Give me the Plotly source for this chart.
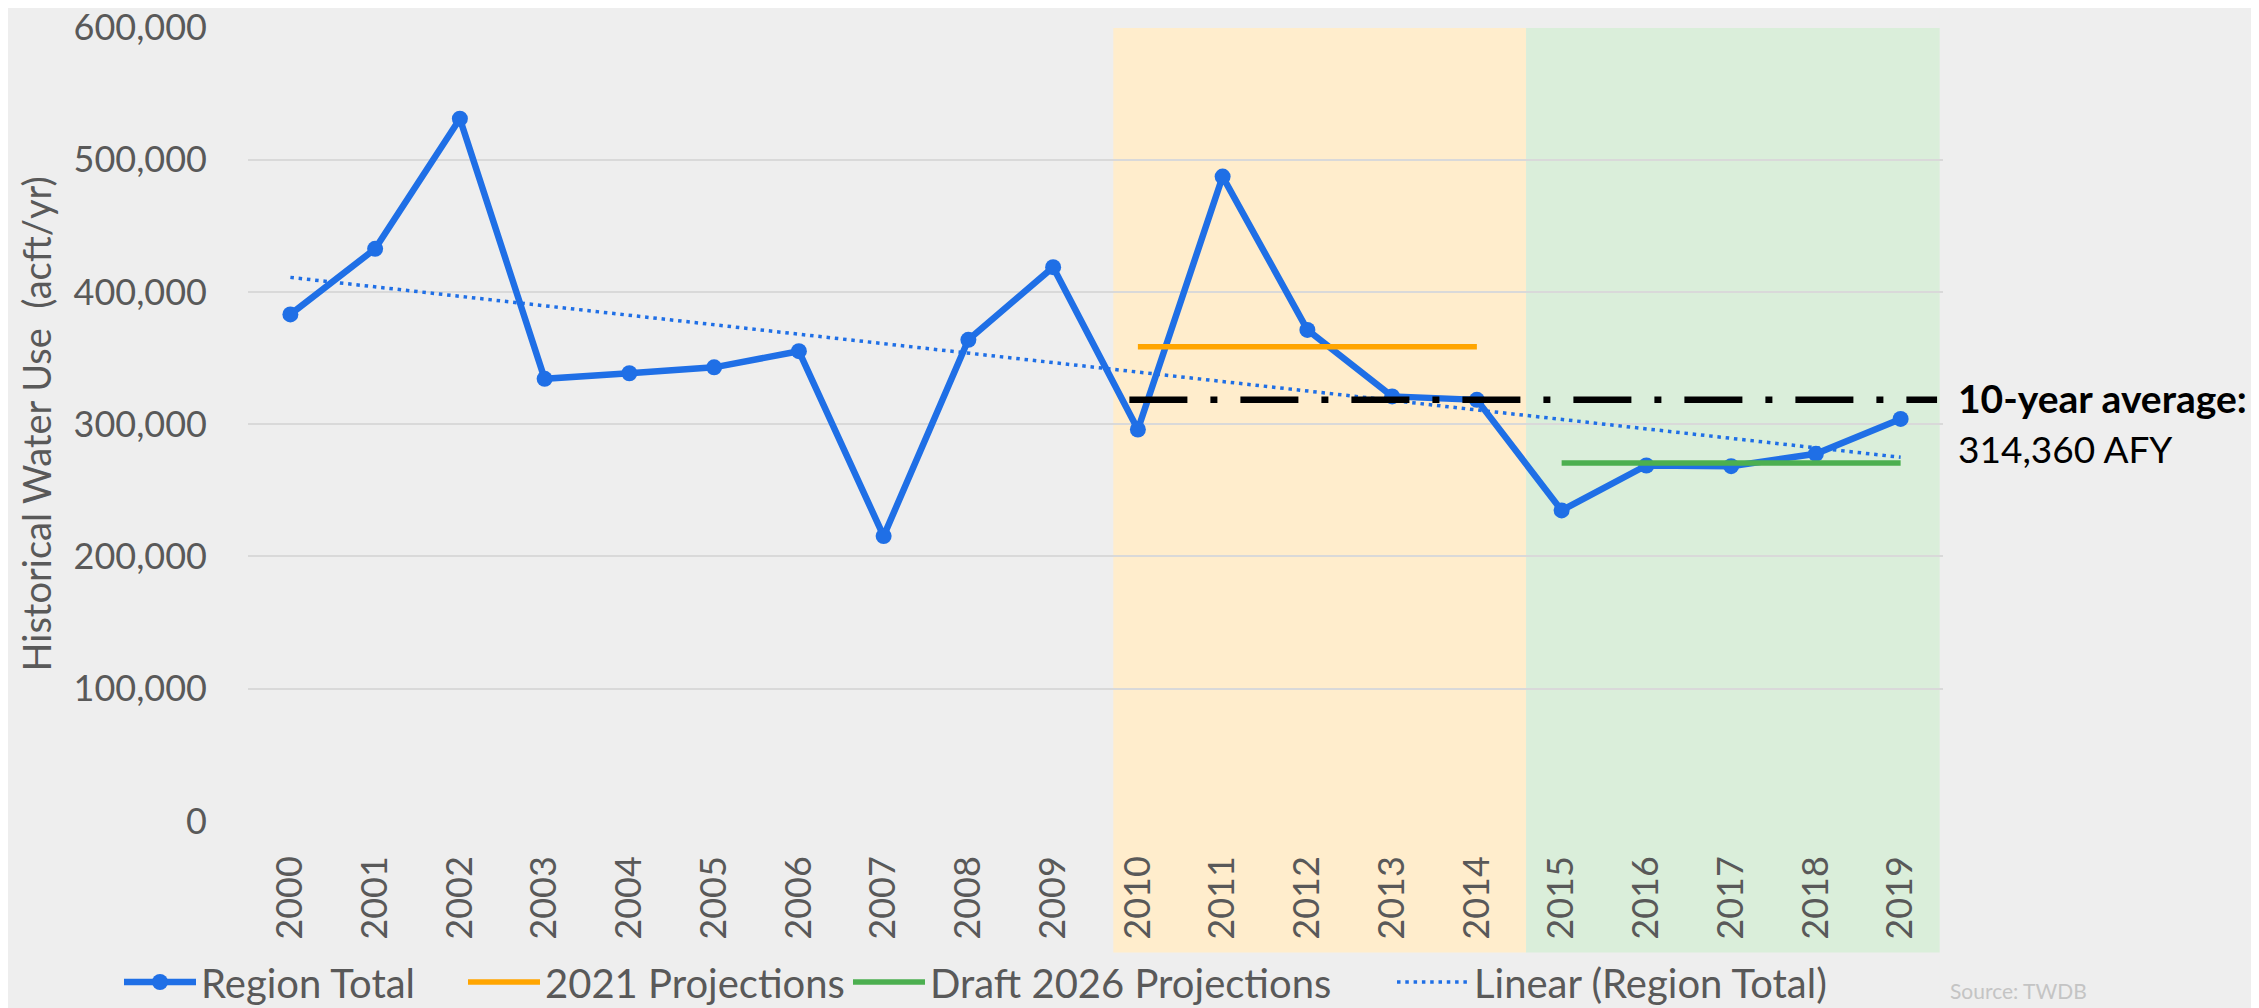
import plotly.graph_objects as go

# ---------------- data ----------------
years = [2000, 2001, 2002, 2003, 2004, 2005, 2006, 2007, 2008, 2009,
         2010, 2011, 2012, 2013, 2014, 2015, 2016, 2017, 2018, 2019]
year_labels = [str(y) for y in years]
region_total = [383000, 432600, 531000, 334300, 338500, 343000, 355200, 215400, 363800, 418700,
                296000, 487200, 371300, 321000, 318400, 234800, 268800, 268300, 277600, 304000]

proj_2021_years = [2010, 2014]
proj_2021 = [358500, 358500]

draft_2026_years = [2015, 2019]
draft_2026 = [270600, 270600]

trend_years = [2000, 2019]
trend_values = [411000, 275000]

avg_years = [2009.9, 2019.43]
avg_values = [318400, 318400]
avg_label_1 = "10-year average:"
avg_label_2 = "314,360 AFY"

y_ticks = [0, 100000, 200000, 300000, 400000, 500000, 600000]

# shaded periods (in year units)
period_2021 = [2009.71, 2014.58]
period_2026 = [2014.58, 2019.46]

# ---------------- style ----------------
FONT = "Lato"
GRAY = "#595959"
BLUE = "#1F6FE6"
ORANGE = "#FFA500"
GREEN = "#4CAF50"
BG = "#EEEEEE"

# the page body has an 8px margin, so the figure starts at (8, 8) of the window
OFF = 8
W, H = 2259 - OFF, 1008 - OFF
PLOT_L, PLOT_R, PLOT_T, PLOT_B = 247.6, 1943, 27, 820.6   # in window pixels
L = PLOT_L - OFF
R = W - (PLOT_R - OFF)
T = PLOT_T - OFF
B = H - (PLOT_B - OFF)
plot_w = W - L - R
plot_h = H - T - B


def px_x(px):
    return (px - OFF - L) / plot_w


def px_y(py):
    return (H - B - (py - OFF)) / plot_h


def cx(px):
    return (px - OFF) / W


def cy(py):
    return 1 - (py - OFF) / H


fig = go.Figure()

fig.add_trace(go.Scatter(
    x=years, y=region_total, name="Region Total", mode="lines+markers", legend="legend",
    line=dict(color=BLUE, width=6.5), marker=dict(color=BLUE, size=16),
))
fig.add_trace(go.Scatter(
    x=proj_2021_years, y=proj_2021, name="2021 Projections", mode="lines", legend="legend2",
    line=dict(color=ORANGE, width=5.5),
))
fig.add_trace(go.Scatter(
    x=draft_2026_years, y=draft_2026, name="Draft 2026 Projections", mode="lines", legend="legend3",
    line=dict(color=GREEN, width=5.5),
))
fig.add_trace(go.Scatter(
    x=trend_years, y=trend_values, name="Linear (Region Total)", mode="lines", legend="legend4",
    line=dict(color=BLUE, width=3.5, dash="3.5px,4.8px"),
))
fig.add_trace(go.Scatter(
    x=avg_years, y=avg_values, name="10-year average", mode="lines", showlegend=False,
    line=dict(color="black", width=6.5, dash="58px,23px,7px,23px"),
))

shapes = [
    dict(type="rect", xref="x", yref="paper", x0=period_2021[0], x1=period_2021[1],
         y0=px_y(952), y1=px_y(28), fillcolor="#FFEDCC", line=dict(width=0), layer="below"),
    dict(type="rect", xref="x", yref="paper", x0=period_2026[0], x1=period_2026[1],
         y0=px_y(952), y1=px_y(28), fillcolor="#DAEEDA", line=dict(width=0), layer="below"),
]

annotations = [
    dict(text="Historical Water Use\u00a0\u00a0(acft/yr)", textangle=-90, xref="paper", yref="paper",
         x=px_x(36), y=0.5, xanchor="center", yanchor="middle", showarrow=False,
         font=dict(family=FONT, size=38, color=GRAY)),
    dict(text="<b>" + avg_label_1 + "</b>", xref="paper", yref="y", x=px_x(1956), y=avg_values[0],
         xanchor="left", yanchor="middle", showarrow=False, yshift=2,
         font=dict(family=FONT, size=39, color="black")),
    dict(text=avg_label_2, xref="paper", yref="y", x=px_x(1956), y=avg_values[0],
         xanchor="left", yanchor="middle", showarrow=False, yshift=-49,
         font=dict(family=FONT, size=37, color="black")),
    dict(text="Source: TWDB", xref="paper", yref="paper", x=px_x(1948), y=px_y(976),
         xanchor="left", yanchor="top", showarrow=False,
         font=dict(family=FONT, size=21, color="#C4C4C4")),
]

legend_common = dict(orientation="h", xref="container", yref="container",
                     yanchor="middle", xanchor="left", y=cy(982),
                     font=dict(family=FONT, size=40, color=GRAY), bgcolor="rgba(0,0,0,0)",
                     itemwidth=72, borderwidth=0)

fig.update_layout(
    width=W, height=H,
    margin=dict(l=L, r=R, t=T, b=B, pad=0, autoexpand=False),
    paper_bgcolor=BG, plot_bgcolor=BG,
    font=dict(family=FONT, size=36, color=GRAY),
    shapes=shapes, annotations=annotations,
    showlegend=True,
    legend=dict(x=cx(119), **legend_common),
    legend2=dict(x=cx(463), **legend_common),
    legend3=dict(x=cx(848), **legend_common),
    legend4=dict(x=cx(1392), **legend_common),
    xaxis=dict(range=[1999.5, 2019.5], tickvals=years, ticktext=year_labels, tickangle=-90,
               showgrid=False, zeroline=False, showline=False, ticks="",
               tickfont=dict(family=FONT, size=36, color=GRAY), ticklabelstandoff=27,
               ticklabeloverflow="allow", automargin=False, fixedrange=True),
    yaxis=dict(range=[0, 600300], tickvals=y_ticks, tickformat=",", showgrid=True,
               gridcolor="#D9D9D9", gridwidth=2, zeroline=False, showline=False, ticks="",
               tickfont=dict(family=FONT, size=36, color=GRAY), ticklabelstandoff=40,
               ticklabeloverflow="allow", automargin=False, fixedrange=True),
)

fig.write_html("out.html")
